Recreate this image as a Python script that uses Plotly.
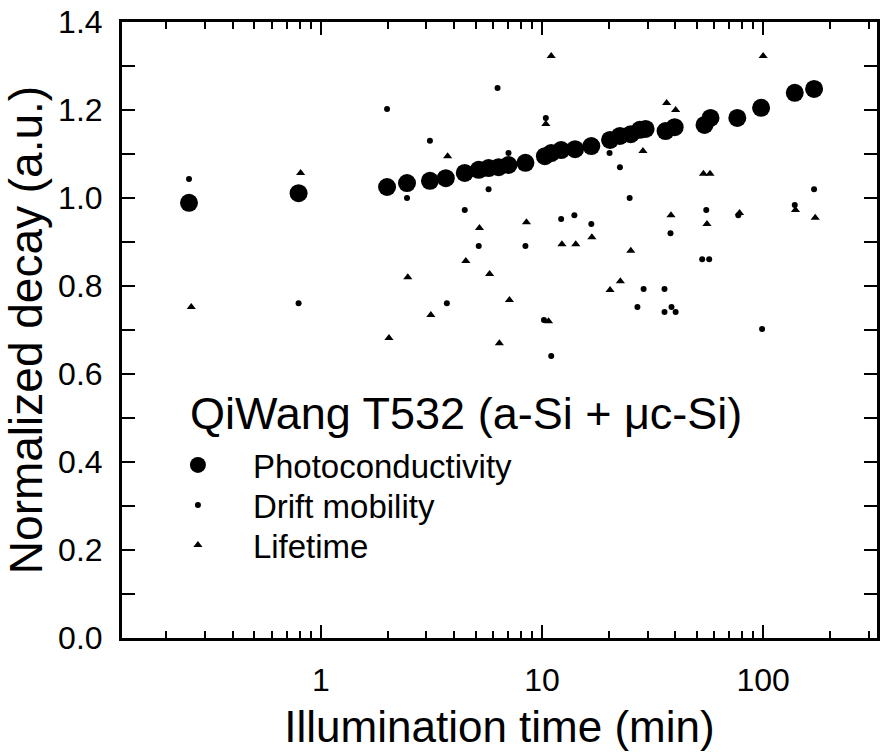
import plotly.graph_objects as go

# Photoconductivity
pc_t = [0.253, 0.792, 1.99, 2.45, 3.11, 3.67, 4.47, 5.17, 5.73, 6.36, 7.05, 8.41,
        10.3, 11.0, 12.2, 14.1, 16.7, 20.3, 22.5, 25.2, 27.7, 29.4, 36.2, 39.8,
        54.3, 57.8, 76.4, 97.9, 139, 170]
pc_v = [0.989, 1.011, 1.025, 1.034, 1.039, 1.045, 1.057, 1.064, 1.068, 1.070, 1.075, 1.080,
        1.095, 1.102, 1.109, 1.111, 1.118, 1.132, 1.141, 1.145, 1.155, 1.157, 1.152, 1.161,
        1.166, 1.182, 1.182, 1.205, 1.239, 1.248]

# Drift mobility
dm_t = [0.253, 0.792, 1.99, 2.45, 3.11, 3.71, 4.47, 5.17, 5.73, 6.29, 7.05, 8.41,
        10.2, 10.4, 11.0, 12.2, 14.0, 16.7, 20.2, 22.5, 24.9, 27.0, 28.8, 35.8,
        35.8, 38.5, 40.2, 38.1, 53.0, 57.0, 55.3, 77.2, 98.9, 139, 170]
dm_v = [1.043, 0.761, 1.202, 1.000, 1.130, 0.761, 0.973, 0.891, 1.020, 1.250, 1.102, 0.891,
        0.723, 1.182, 0.641, 0.952, 0.961, 0.941, 1.102, 1.070, 1.000, 0.752, 0.793, 0.793,
        0.741, 0.752, 0.741, 0.920, 0.861, 0.861, 0.973, 0.961, 0.702, 0.984, 1.020]

# Lifetime
lt_t = [0.259, 0.809, 2.03, 2.47, 3.14, 3.74, 4.52, 5.21, 5.79, 6.41, 7.12, 8.5,
        10.4, 10.7, 11.0, 12.3, 14.2, 16.8, 20.3, 22.6, 25.2, 28.6, 36.6, 40.2,
        38.3, 53.7, 57.5, 55.7, 78.2, 100, 140, 172]
lt_v = [0.752, 1.057, 0.682, 0.820, 0.734, 1.095, 0.857, 0.932, 0.827, 0.670, 0.768, 0.945,
        1.168, 0.720, 1.323, 0.895, 0.895, 0.911, 0.791, 0.811, 0.880, 1.107, 1.216, 1.200,
        0.961, 1.055, 1.055, 0.941, 0.966, 1.323, 0.973, 0.955]

x_major = [1, 10, 100]
x_minor = [0.2, 0.3, 0.4, 0.5, 0.6, 0.7, 0.8, 0.9,
           2, 3, 4, 5, 6, 7, 8, 9,
           20, 30, 40, 50, 60, 70, 80, 90,
           200, 300]
y_ticks = [0.0, 0.2, 0.4, 0.6, 0.8, 1.0, 1.2, 1.4]
y_minor = [0.1, 0.3, 0.5, 0.7, 0.9, 1.1, 1.3]

FONT = "Arial, Liberation Sans, sans-serif"

fig = go.Figure()
fig.add_trace(go.Scatter(x=pc_t, y=pc_v, mode="markers", name="Photoconductivity",
                         legend="legend",
                         marker=dict(symbol="circle", size=18, color="black")))
fig.add_trace(go.Scatter(x=dm_t, y=dm_v, mode="markers", name="Drift mobility",
                         legend="legend2",
                         marker=dict(symbol="circle", size=6, color="black")))
fig.add_trace(go.Scatter(x=lt_t, y=lt_v, mode="markers", name="Lifetime",
                         legend="legend3",
                         marker=dict(symbol="triangle-up", size=8, color="black")))

def leg(ypix):
    return dict(x=0.0277, y=(638 - ypix) / 616, xanchor="left", yanchor="middle",
                font=dict(size=33, family=FONT), bgcolor="rgba(0,0,0,0)",
                itemsizing="trace", itemwidth=100)

fig.update_layout(
    width=883, height=753,
    margin=dict(l=122, r=3, t=22, b=115),
    plot_bgcolor="white", paper_bgcolor="white",
    font=dict(family=FONT, color="black"),
    showlegend=True,
    legend=leg(465), legend2=leg(505), legend3=leg(545),
    annotations=[dict(text="QiWang T532 (a-Si + μc-Si)", xref="paper", yref="paper",
                      x=0.087, y=0.365, xanchor="left", yanchor="middle",
                      showarrow=False, font=dict(size=45, family=FONT))],
)

fig.update_xaxes(
    type="log", range=[-0.9, 2.515],
    tickmode="array", tickvals=x_major, ticktext=["1", "10", "100"],
    ticks="inside", ticklen=13, tickwidth=2, tickcolor="black",
    minor=dict(tickmode="array", tickvals=x_minor, ticks="inside", ticklen=7,
               tickwidth=2, tickcolor="black", showgrid=False),
    showline=True, linewidth=3, linecolor="black", mirror="allticks",
    showgrid=False, zeroline=False,
    tickfont=dict(size=32), ticklabelstandoff=12,
    title=dict(text="Illumination time (min)", font=dict(size=44), standoff=14),
)
fig.update_yaxes(
    range=[0, 1.4],
    tickmode="array", tickvals=y_ticks, ticktext=[f"{v:.1f}" for v in y_ticks],
    ticks="inside", ticklen=13, tickwidth=2, tickcolor="black",
    minor=dict(tickmode="array", tickvals=y_minor, ticks="inside", ticklen=13,
               tickwidth=2, tickcolor="black", showgrid=False),
    showline=True, linewidth=3, linecolor="black", mirror="allticks",
    showgrid=False, zeroline=False,
    tickfont=dict(size=32), ticklabelstandoff=10,
    title=dict(text="Normalized decay (a.u.)", font=dict(size=46), standoff=8),
)

fig.write_html("out.html")
